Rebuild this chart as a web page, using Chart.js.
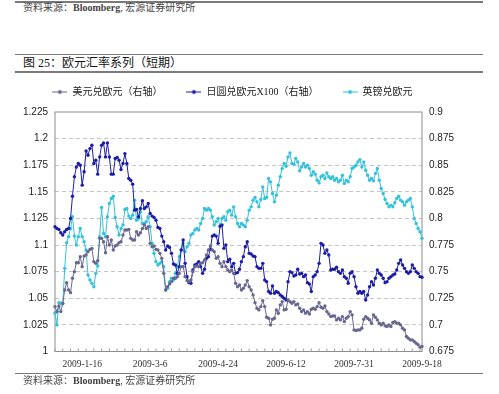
<!DOCTYPE html>
<html><head><meta charset="utf-8">
<script src="https://cdn.jsdelivr.net/npm/chart.js@4"></script>
<style>
html,body{margin:0;padding:0;background:#fff;}
#wrap{position:relative;width:499px;height:394px;overflow:hidden;background:#fff;}
#c{position:absolute;left:0;top:0;}
.hl{position:absolute;left:15px;width:468px;background:#7a7a7a;}
.src{position:absolute;left:23px;font-size:10px;line-height:10px;font-family:"Liberation Serif","Noto Sans CJK SC",serif;color:#444;white-space:nowrap;}
.ttl{position:absolute;left:23px;top:57px;font-size:12px;line-height:12px;font-family:"Liberation Serif","Noto Sans CJK SC",serif;color:#111;white-space:nowrap;}
</style></head>
<body><div id="wrap">
<div class="hl" style="top:1px;height:1.5px"></div>
<div class="src" style="top:3px">资料来源：<b>Bloomberg</b>, 宏源证券研究所</div>
<div class="hl" style="top:53.7px;height:1.3px"></div>
<div class="ttl">图 25：欧元汇率系列（短期）</div>
<div class="hl" style="top:71px;height:1.7px"></div>
<canvas id="c" width="499" height="394"></canvas>
<div class="hl" style="top:372.7px;height:1.5px"></div>
<div class="src" style="top:376px">资料来源：<b>Bloomberg</b>, 宏源证券研究所</div>
</div>
<script>
// ---- data ----
const startDate = '2008-12-29';
const endDate = '2009-09-18';
const xTickLabels = ['2009-1-16','2009-3-6','2009-4-24','2009-6-12','2009-7-31','2009-9-18'];
const seriesNames = ['美元兑欧元（右轴）','日圆兑欧元X100（右轴）','英镑兑欧元'];
const leftTicks = [1,1.025,1.05,1.075,1.1,1.125,1.15,1.175,1.2,1.225];
const rightTicks = [0.675,0.7,0.725,0.75,0.775,0.8,0.825,0.85,0.875,0.9];

// 美元兑欧元 (right axis)
const usdEur = [
0.7172,0.7125,0.7178,0.7125,0.7203,0.7328,0.7397,0.7328,0.7303,0.7438,0.75,0.7584,0.7584,0.7641,0.7547,0.7647,
0.7656,0.7688,0.7709,0.7719,0.7594,0.7578,0.7603,0.7813,0.7813,0.7781,0.7678,0.7828,0.775,0.7797,0.7703,0.7741,
0.775,0.7772,0.7781,0.7844,0.7891,0.7891,0.7897,0.7813,0.7797,0.7797,0.7875,0.7844,0.7866,0.7906,0.7938,0.7906,
0.7922,0.7766,0.7734,0.7741,0.7709,0.7703,0.7672,
0.7625,0.7484,0.7328,0.7359,0.7384,0.7406,0.7438,0.7438,0.7453,0.7484,0.7547,0.7547,0.7453,0.7416,0.7406,0.7422,0.75,
0.7547,0.7553,0.7547,0.7578,0.7584,0.7609,0.7656,0.7703,0.7741,0.7703,0.7688,0.7625,0.7641,0.7578,0.7547,0.7594,
0.7547,0.7516,0.75,0.7516,0.7484,0.7391,0.7359,0.7375,
0.7328,0.7344,0.7375,0.7416,0.7359,0.7328,0.7281,0.7209,0.7156,0.7141,0.7172,0.7228,0.7172,0.7072,0.7063,0.7,
0.7053,0.7063,0.7141,0.7109,0.7188,0.7219,0.7141,0.7147,0.7234,0.7219,0.7203,0.7219,0.7188,0.7197,0.7156,0.7125,
0.7141,0.7109,0.7125,0.7103,0.7147,0.7156,0.7147,0.7172,0.7209,0.7166,0.7156,0.7178,0.7125,0.7103,0.7078,0.7084,
0.7084,0.7047,0.7063,0.7047,0.7078,0.7031,0.7063,0.7078,0.7125,0.7094,0.6953,0.6947,0.6953,0.6953,0.6969,0.7053,
0.7078,0.7063,0.7047,0.7016,0.7094,0.7072,0.7047,0.7016,0.7,0.7016,0.6991,0.6984,0.7,0.6984,0.7022,0.7031,
0.7016,0.7016,0.7,0.6969,0.6953,0.6891,0.6875,0.6859,0.6859,0.6844,0.6828,0.6813,0.6791,0.6797
];
// 日圆兑欧元X100 (right axis)
const jpyEur = [
0.7922,0.7906,0.7897,0.7866,0.7844,0.7875,0.7897,0.7906,0.8,0.8209,0.8391,0.8484,0.8516,0.85,0.8313,0.8438,
0.8634,0.8594,0.8656,0.8688,0.8516,0.8547,0.8416,0.8578,0.8688,0.8709,0.8578,0.8709,0.8578,0.8416,0.8416,0.8563,
0.8572,0.8547,0.8459,0.8516,0.8609,0.8516,0.8375,0.8359,0.8322,0.8078,0.8084,0.8016,0.8094,0.8166,0.8094,0.8109,
0.8141,0.8047,0.8022,0.8009,0.7984,0.7916,0.7906,0.7834,0.7781,0.7703,0.7741,0.7728,0.7672,0.7572,0.7563,0.7484,
0.7547,0.7703,0.7797,0.7578,0.7453,0.7397,0.7391,0.7516,0.7563,0.7572,0.7594,0.7547,0.7484,0.7522,0.7625,0.7641,
0.7709,0.7834,0.7844,0.7834,0.7766,0.7928,0.7938,0.7719,0.775,0.7594,0.7616,0.7547,0.7578,0.7484,0.7491,0.7522,
0.7594,0.7641,0.7734,0.7781,0.7672,0.7666,0.7647,0.7641,0.7547,0.7531,0.7531,0.7578,0.7422,0.7406,0.7313,0.7297,
0.7366,0.7297,0.7313,0.7303,0.7281,0.7266,0.725,0.7234,0.7406,0.75,0.7491,0.7459,0.7469,0.7522,0.7478,0.7484,
0.7453,0.7469,0.7397,0.7384,0.7313,0.7453,0.7469,0.75,0.7578,0.7766,0.775,0.7672,0.7703,0.7656,0.7516,0.7522,
0.7522,0.7541,0.75,0.7484,0.7516,0.7453,0.7438,0.7391,0.7484,0.75,0.7453,0.7359,0.7297,0.7313,0.7297,0.7313,
0.7234,0.7281,0.7359,0.7406,0.7375,0.7438,0.7516,0.7484,0.7469,0.7438,0.7397,0.7406,0.7438,0.7453,0.7469,0.7478,
0.7516,0.7578,0.7609,0.7563,0.7531,0.75,0.7484,0.75,0.7563,0.7531,0.75,0.7484,0.7453,0.7447
];
// 英镑兑欧元 (left axis)
const gbpEur = [
1.0359,1.025,1.0459,1.0453,1.0447,1.0781,1.1022,1.1078,1.1156,1.1266,1.1084,1.1,1.1078,1.1156,1.1078,1.1031,
1.0953,1.0719,1.0672,1.0641,1.0609,1.0734,1.0803,1.1078,1.1353,1.1109,1.1078,1.1266,1.1391,1.1438,1.1459,1.1259,
1.1172,1.1094,1.1156,1.1188,1.1334,1.1344,1.1272,1.125,1.1281,1.1422,1.1234,1.125,1.1313,1.1203,1.1203,1.1219,
1.1266,1.1172,1.1016,1.0922,1.0844,1.0813,1.0828,1.0844,1.0797,1.0578,1.0594,1.0656,1.0688,1.0672,1.0734,1.0797,
1.0891,1.0953,1.1016,1.0938,1.0984,1.1016,1.1094,1.1109,1.1141,1.1156,1.1141,1.1203,1.125,1.1344,1.1328,1.1344,
1.1328,1.1266,1.1188,1.1219,1.125,1.1172,1.125,1.1266,1.1234,1.1313,1.1328,1.1281,1.1359,1.1266,1.1203,1.1172,
1.1203,1.1188,1.1172,1.1234,1.1328,1.1359,1.1422,1.1447,1.1406,1.1359,1.1428,1.1547,1.1438,1.1447,1.1625,1.1594,
1.1484,1.1406,1.1469,1.1563,1.1641,1.1719,1.1766,1.1741,1.1828,1.1866,1.1766,1.1759,1.1813,1.1781,1.1697,1.1734,
1.1766,1.1734,1.175,1.1719,1.1656,1.1688,1.1666,1.1609,1.1584,1.1641,1.1656,1.1625,1.1678,1.1641,1.1625,1.1641,
1.1609,1.1625,1.1594,1.1609,1.1656,1.1578,1.1609,1.1594,1.1641,1.1719,1.1734,1.175,1.1781,1.1803,1.1734,1.1781,
1.1703,1.1656,1.1609,1.1625,1.1603,1.1672,1.1719,1.1609,1.1531,1.1484,1.1428,1.1391,1.1359,1.1375,1.1359,1.1397,
1.1438,1.1459,1.1422,1.1406,1.1375,1.1406,1.1422,1.1438,1.1359,1.125,1.1203,1.1156,1.1125,1.1063
];
const colors = ['#68688f','#1c1ca6','#33c2da'];

// ---- categories: business days ----
function fmt(d){return d.getUTCFullYear()+'-'+(d.getUTCMonth()+1)+'-'+d.getUTCDate();}
const categories = [];
for(let d=new Date(startDate+'T00:00:00Z'); d<=new Date(endDate+'T00:00:00Z'); d=new Date(d.getTime()+86400000)){
  const wd=d.getUTCDay(); if(wd!==0&&wd!==6) categories.push(fmt(d));
}

function marker(color){
  const c=document.createElement('canvas'); c.width=15; c.height=7;
  const x=c.getContext('2d');
  x.strokeStyle=color; x.lineWidth=1; x.beginPath(); x.moveTo(0,3.5); x.lineTo(15,3.5); x.stroke();
  x.fillStyle=color; x.beginPath(); x.arc(7.5,3.5,2,0,Math.PI*2); x.fill();
  return c;
}
const markers = colors.map(marker);

const framePlugin = {
  id:'frame',
  beforeDatasetsDraw(chart){
    const a=chart.chartArea, ctx=chart.ctx;
    ctx.save(); ctx.strokeStyle='#8c8c8c'; ctx.lineWidth=1;
    ctx.strokeRect(a.left,a.top,a.right-a.left,a.bottom-a.top);
    const xs=chart.scales.x;
    ctx.strokeStyle='#a0a0a0';
    ctx.beginPath();
    for(let i=0;i<categories.length;i+=4){const px=xs.getPixelForValue(i); ctx.moveTo(px,a.bottom); ctx.lineTo(px,a.bottom-3);}
    ctx.stroke();
    ctx.restore();
  }
};
const legendHeight = {
  id:'legendHeight',
  beforeInit(chart){
    const orig=chart.legend.fit;
    chart.legend.fit=function(){orig.call(this); this.height=49;};
  }
};

function ds(label,data,color,axis){
  return {label,data,borderColor:color,backgroundColor:color,yAxisID:axis,borderWidth:1,
    pointRadius:1.7,pointBorderWidth:0,pointBackgroundColor:color,pointHoverRadius:2,tension:0};
}

new Chart(document.getElementById('c'),{
  type:'line',
  data:{labels:categories,datasets:[
    ds(seriesNames[0],usdEur,colors[0],'yR'),
    ds(seriesNames[1],jpyEur,colors[1],'yR'),
    ds(seriesNames[2],gbpEur,colors[2],'yL')
  ]},
  options:{
    responsive:false,animation:false,
    layout:{padding:{top:63,left:0,right:34,bottom:20.5}},
    plugins:{
      legend:{display:true,position:'top',
        labels:{usePointStyle:true,pointStyleWidth:15,padding:24,color:'#222',
          font:{size:10,family:'"Liberation Serif","Noto Sans CJK SC",serif'},
          generateLabels(chart){
            const items=Chart.defaults.plugins.legend.labels.generateLabels(chart);
            items.forEach((it,i)=>{it.pointStyle=markers[i];});
            return items;
          }}},
      tooltip:{enabled:false}
    },
    scales:{
      x:{type:'category',
        grid:{display:false,drawTicks:false},border:{display:false},
        afterFit(s){s.height=22;},
        ticks:{autoSkip:false,maxRotation:0,minRotation:0,padding:7,color:'#333',
          font:{size:9.5,family:'"Liberation Serif",serif'},
          callback(v,i){const l=categories[i]; return xTickLabels.includes(l)?l:'';}}},
      yL:{type:'linear',position:'left',min:leftTicks[0],max:leftTicks[leftTicks.length-1],
        afterFit(s){s.width=55;},
        afterBuildTicks(s){s.ticks=leftTicks.map(v=>({value:v}));},
        grid:{drawTicks:false,color:(c)=>(c.index===0||c.index===leftTicks.length-1)?'rgba(0,0,0,0)':'#c4c4c4'},
        border:{display:false,dash:[4,3]},
        ticks:{padding:7,color:'#222',font:{size:10,family:'"Liberation Sans",Arial,sans-serif'},
          callback(v,i){return String(leftTicks[i]);}}},
      yR:{type:'linear',position:'right',min:rightTicks[0],max:rightTicks[rightTicks.length-1],
        afterFit(s){s.width=43;},
        afterBuildTicks(s){s.ticks=rightTicks.map(v=>({value:v}));},
        grid:{display:false,drawTicks:false},border:{display:false},
        ticks:{padding:7,color:'#222',font:{size:10,family:'"Liberation Sans",Arial,sans-serif'},
          callback(v,i){return String(rightTicks[i]);}}}
    }
  },
  plugins:[framePlugin,legendHeight]
});
</script>
</body></html>
